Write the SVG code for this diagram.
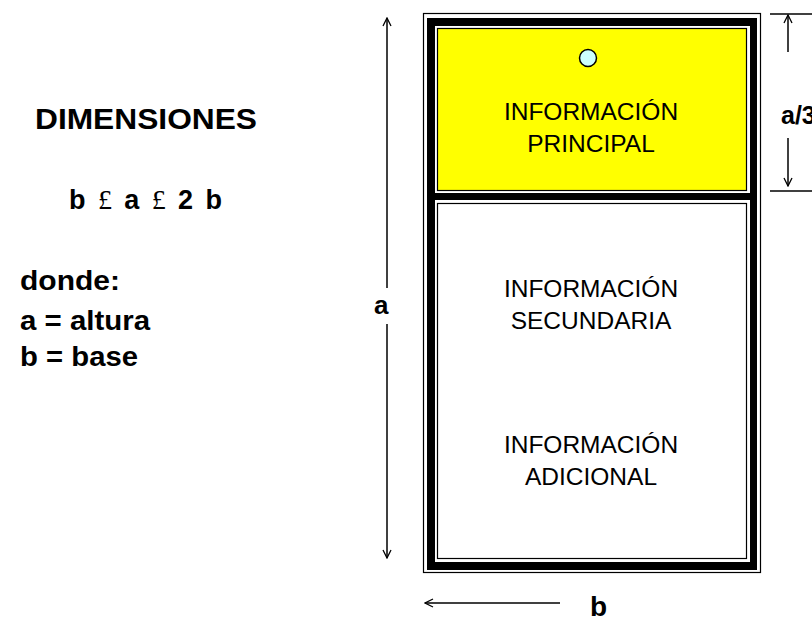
<svg xmlns="http://www.w3.org/2000/svg" width="812" height="618" viewBox="0 0 812 618">
<defs>
<marker id="arr" viewBox="0 0 10 10" refX="9" refY="5" markerWidth="10" markerHeight="10" markerUnits="userSpaceOnUse" orient="auto">
<path d="M1,1 L9,5 L1,9" fill="none" stroke="#000" stroke-width="1.3"/>
</marker>
<style>
.b{font-family:"Liberation Sans",Arial,sans-serif;font-weight:bold;fill:#000}
.n{font-family:"Liberation Sans",Arial,sans-serif;fill:#000;text-anchor:middle;font-size:24.5px}
.sym{font-family:"Liberation Serif","Times New Roman",serif;font-weight:normal;font-size:28px}
.ln{stroke:#000;stroke-width:1.5;fill:none}
.thin{stroke:#000;stroke-width:1.2}
</style>
</defs>
<rect width="812" height="618" fill="#fff"/>

<g id="legend">
<text class="b" x="35" y="129" font-size="29" textLength="222" lengthAdjust="spacingAndGlyphs">DIMENSIONES</text>
<text class="b" x="69" y="209" font-size="27" textLength="153" lengthAdjust="spacing">b <tspan class="sym">£</tspan> a <tspan class="sym">£</tspan> 2 b</text>
<text class="b" x="20" y="290" font-size="27" textLength="100" lengthAdjust="spacingAndGlyphs">donde:</text>
<text class="b" x="20" y="330" font-size="27" textLength="130" lengthAdjust="spacingAndGlyphs">a = altura</text>
<text class="b" x="20" y="366" font-size="27" textLength="118" lengthAdjust="spacingAndGlyphs">b = base</text>
</g>

<g id="frame">
<rect x="423.5" y="13.5" width="337" height="559" fill="none" class="thin"/>
<rect x="427" y="18" width="330" height="552" fill="#000"/>
<rect x="435" y="26" width="315" height="167" fill="#fff"/>
<rect x="435" y="200" width="315" height="362" fill="#fff"/>
</g>

<g id="principal">
<rect x="437.5" y="28.5" width="309" height="162" fill="#ffff00" class="thin"/>
<circle cx="588" cy="58" r="8.5" fill="#ccffff" stroke="#000" stroke-width="1.5"/>
<text class="n" x="591" y="119.5">INFORMACIÓN</text>
<text class="n" x="591" y="151.5">PRINCIPAL</text>
</g>

<g id="secundaria">
<rect x="437.5" y="203.5" width="309" height="355" fill="#fff" class="thin"/>
<text class="n" x="591" y="296.5">INFORMACIÓN</text>
<text class="n" x="591" y="329">SECUNDARIA</text>
<text class="n" x="591" y="452.5">INFORMACIÓN</text>
<text class="n" x="591" y="485">ADICIONAL</text>
</g>

<g id="connectors">
<line x1="387" y1="288" x2="387" y2="18" class="ln" marker-end="url(#arr)"/>
<line x1="387" y1="324" x2="387" y2="558" class="ln" marker-end="url(#arr)"/>
<line x1="770" y1="14" x2="812" y2="14" class="ln"/>
<line x1="770" y1="191" x2="812" y2="191" class="ln"/>
<line x1="788" y1="52" x2="788" y2="15" class="ln" marker-end="url(#arr)"/>
<line x1="788" y1="138" x2="788" y2="186" class="ln" marker-end="url(#arr)"/>
<line x1="560" y1="603" x2="425" y2="603" class="ln" marker-end="url(#arr)"/>
</g>

<g id="labels">
<text class="b" x="374" y="314" font-size="26">a</text>
<text class="b" x="781" y="124" font-size="25">a/3</text>
<text class="b" x="590" y="616" font-size="28">b</text>
</g>
</svg>
